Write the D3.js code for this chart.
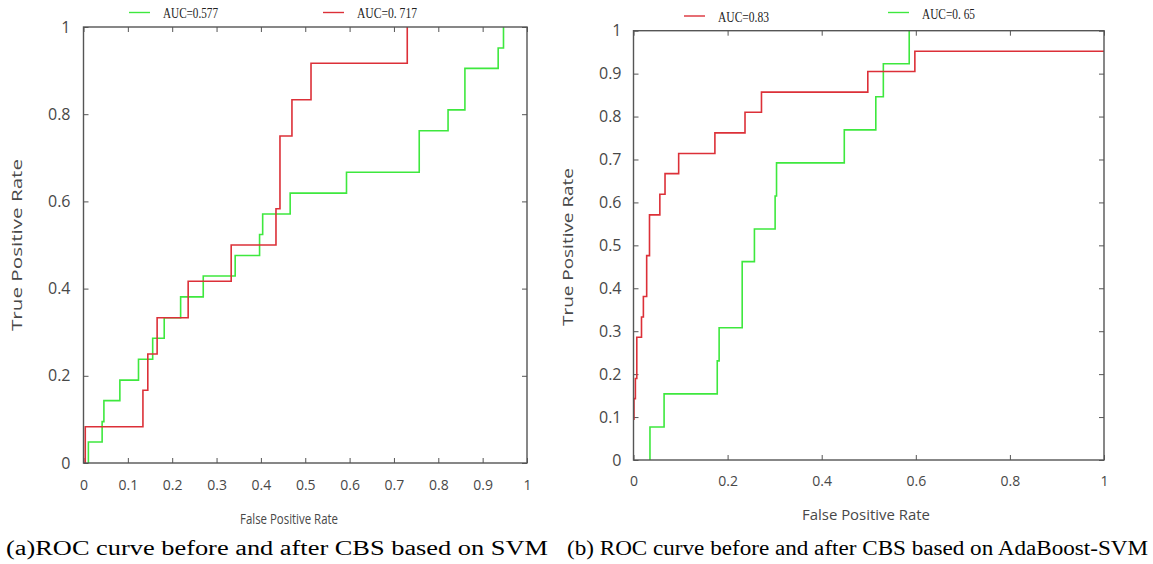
<!DOCTYPE html>
<html>
<head>
    <title>ROC curves before and after CBS</title>
    <script src="https://d3js.org/d3.v7.min.js"></script>
    <style>
        body {
            margin: 0;
            background: #fff;
        }
        .tick text {
            font-family: "Open Sans", "DejaVu Sans", sans-serif;
            fill: #484848;
        }
        .tick line {
            stroke: #555;
        }
    </style>
</head>
<body>
    <div id="viz"></div>
    <script>
        // (a) SVM: step points [fpr, tpr]
        const svmGreen = [[0.011, 0], [0.011, 0.048], [0.042, 0.095], [0.046, 0.143], [0.082, 0.19],
            [0.124, 0.238], [0.156, 0.286], [0.182, 0.333], [0.219, 0.381], [0.27, 0.429],
            [0.342, 0.476], [0.397, 0.524], [0.404, 0.571], [0.466, 0.619], [0.593, 0.667],
            [0.757, 0.762], [0.822, 0.81], [0.86, 0.905], [0.935, 0.952], [0.947, 1]];
        const svmRed = [[0.004, 0], [0.004, 0.083], [0.134, 0.167], [0.145, 0.25], [0.166, 0.333],
            [0.236, 0.417], [0.333, 0.5], [0.434, 0.583], [0.443, 0.75], [0.47, 0.833],
            [0.513, 0.917], [0.73, 1]];

        // (b) AdaBoost-SVM
        const adaRed = [[0, 0.095], [0.001, 0.143], [0.004, 0.19], [0.007, 0.286], [0.017, 0.333],
            [0.021, 0.381], [0.028, 0.476], [0.034, 0.571], [0.056, 0.619], [0.067, 0.667],
            [0.096, 0.714], [0.173, 0.762], [0.237, 0.81], [0.272, 0.857], [0.498, 0.905],
            [0.598, 0.952], [1, 0.952]];
        const adaGreen = [[0.035, 0], [0.035, 0.077], [0.065, 0.154], [0.178, 0.231], [0.182, 0.308],
            [0.231, 0.462], [0.257, 0.538], [0.301, 0.615], [0.304, 0.692], [0.448, 0.769],
            [0.515, 0.846], [0.531, 0.923], [0.586, 1]];

        const legendA = ['AUC=0.577', 'AUC=0. 717'];
        const legendB = ['AUC=0.83', 'AUC=0. 65'];
        const captions = ['(a)ROC curve before and after CBS based on SVM',
            '(b) ROC curve before and after CBS based on AdaBoost-SVM'];

        const RED = '#dc3038';
        const GREEN = '#3ee83e';

        const svg = d3.select('#viz')
            .append('svg')
            .attr('width', 1153)
            .attr('height', 564);

        const panels = [
            {
                x0: 83.5, x1: 527, y0: 463, y1: 27, xTicks: 10, yTicks: 5,
                xPad: 17, yPad: 13, title: { x: 17, y: 245, len: 172 },
                xTitle: { x: 289, y: 524, len: 98 },
                curves: [{ pts: svmGreen, color: GREEN }, { pts: svmRed, color: RED }],
                legend: [
                    { lx: 129, ly: 12.5, tx: 163, ty: 18, len: 55, text: legendA[0], color: GREEN },
                    { lx: 323, ly: 12.5, tx: 357, ty: 18, len: 60, text: legendA[1], color: RED }
                ]
            },
            {
                x0: 633.5, x1: 1104, y0: 460, y1: 30.7, xTicks: 5, yTicks: 10,
                xPad: 16, yPad: 12, title: { x: 568, y: 247, len: 158 },
                xTitle: { x: 866, y: 520, len: 128 },
                curves: [{ pts: adaGreen, color: GREEN }, { pts: adaRed, color: RED }],
                legend: [
                    { lx: 684, ly: 16, tx: 718, ty: 22, len: 51, text: legendB[0], color: RED },
                    { lx: 888, ly: 12.5, tx: 922, ty: 19, len: 53, text: legendB[1], color: GREEN }
                ]
            }
        ];

        panels.forEach(p => {
            const x = d3.scaleLinear().domain([0, 1]).range([p.x0, p.x1]);
            const y = d3.scaleLinear().domain([0, 1]).range([p.y0, p.y1]);
            const fmt = d3.format('~g');

            // inner ticks on all four sides
            const bottom = svg.append('g')
                .attr('transform', `translate(0,${p.y0})`)
                .call(d3.axisBottom(x).ticks(p.xTicks).tickFormat(fmt).tickSizeInner(-5).tickSizeOuter(0).tickPadding(p.xPad));
            bottom.selectAll('text').style('font-size', '14px');
            svg.append('g')
                .attr('transform', `translate(0,${p.y1})`)
                .call(d3.axisTop(x).ticks(p.xTicks).tickFormat('').tickSizeInner(-5).tickSizeOuter(0));
            const left = svg.append('g')
                .attr('transform', `translate(${p.x0},0)`)
                .call(d3.axisLeft(y).ticks(p.yTicks).tickFormat(fmt).tickSizeInner(-5).tickSizeOuter(0).tickPadding(p.yPad));
            left.selectAll('text').style('font-size', '16px');
            svg.append('g')
                .attr('transform', `translate(${p.x1},0)`)
                .call(d3.axisRight(y).ticks(p.yTicks).tickFormat('').tickSizeInner(-5).tickSizeOuter(0));
            svg.selectAll('.domain').remove();

            // curves
            const line = d3.line()
                .x(d => x(d[0]))
                .y(d => y(d[1]))
                .curve(d3.curveStepAfter);
            p.curves.forEach(c => {
                svg.append('path')
                    .datum(c.pts)
                    .attr('fill', 'none')
                    .attr('stroke', c.color)
                    .attr('stroke-width', 1.6)
                    .attr('d', line);
            });

            // frame
            svg.append('rect')
                .attr('x', p.x0)
                .attr('y', p.y1)
                .attr('width', p.x1 - p.x0)
                .attr('height', p.y0 - p.y1)
                .attr('fill', 'none')
                .attr('stroke', '#555')
                .attr('stroke-width', 1.4);

            // axis titles
            svg.append('text')
                .attr('transform', `translate(${p.title.x},${p.title.y}) rotate(-90)`)
                .attr('text-anchor', 'middle')
                .attr('dy', '0.35em')
                .attr('textLength', p.title.len)
                .attr('lengthAdjust', 'spacingAndGlyphs')
                .style('font-family', '"Open Sans", "DejaVu Sans", sans-serif')
                .style('font-size', '15px')
                .style('fill', '#484848')
                .text('True Positive Rate');
            svg.append('text')
                .attr('x', p.xTitle.x)
                .attr('y', p.xTitle.y)
                .attr('text-anchor', 'middle')
                .attr('textLength', p.xTitle.len)
                .attr('lengthAdjust', 'spacingAndGlyphs')
                .style('font-family', '"Open Sans", "DejaVu Sans", sans-serif')
                .style('font-size', '14px')
                .style('fill', '#484848')
                .text('False Positive Rate');

            // legend
            p.legend.forEach(l => {
                svg.append('line')
                    .attr('x1', l.lx).attr('x2', l.lx + 21)
                    .attr('y1', l.ly).attr('y2', l.ly)
                    .attr('stroke', l.color)
                    .attr('stroke-width', 1.4);
                svg.append('text')
                    .attr('x', l.tx)
                    .attr('y', l.ty)
                    .attr('textLength', l.len)
                    .attr('lengthAdjust', 'spacingAndGlyphs')
                    .style('font-family', '"Liberation Serif", "Times New Roman", serif')
                    .style('font-size', '14px')
                    .style('fill', '#222')
                    .text(l.text);
            });
        });

        // captions
        svg.selectAll('text.caption')
            .data(captions)
            .enter().append('text')
            .attr('class', 'caption')
            .attr('x', (d, i) => i === 0 ? 6 : 567)
            .attr('y', 555)
            .attr('textLength', (d, i) => i === 0 ? 542 : 581)
            .attr('lengthAdjust', 'spacingAndGlyphs')
            .style('font-family', '"Liberation Serif", "Times New Roman", serif')
            .style('font-size', '20px')
            .style('fill', '#000')
            .text(d => d);
    </script>
</body>
</html>
